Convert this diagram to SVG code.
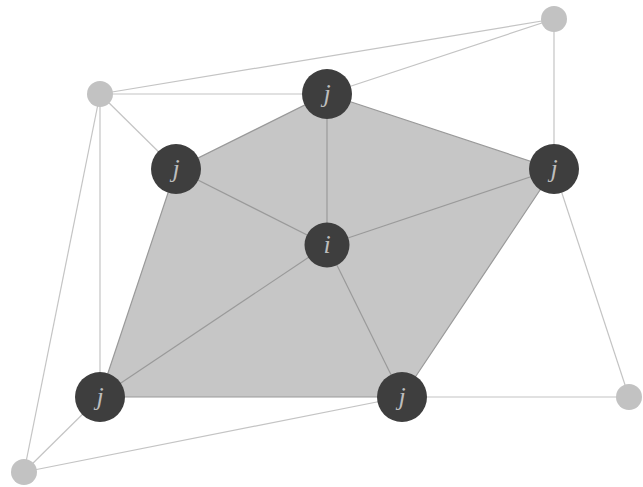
<svg xmlns="http://www.w3.org/2000/svg" width="643" height="487" viewBox="0 0 643 487">
<style>
.outer{stroke:#c4c4c4;stroke-width:1.2;fill:none}
.inner{stroke:#9a9a9a;stroke-width:1.2;fill:none}
.poly{fill:#c6c6c6;stroke:#999999;stroke-width:1.2}
.dark{fill:#3e3e3e}
.light{fill:#c2c2c2}
.lbl{font-family:"Liberation Serif",serif;font-style:italic;font-size:26px;fill:#bdbdbd;text-anchor:middle}
</style>
<rect width="643" height="487" fill="#ffffff"/>
<polygon id="region" class="poly" points="327,94 554,169 402,397 100,397 176,169"/>
<g id="connectors">
<line class="outer" x1="100" y1="94" x2="327" y2="94"/>
<line class="outer" x1="100" y1="94" x2="554" y2="19"/>
<line class="outer" x1="327" y1="94" x2="554" y2="19"/>
<line class="outer" x1="554" y1="19" x2="554" y2="169"/>
<line class="outer" x1="100" y1="94" x2="176" y2="169"/>
<line class="outer" x1="100" y1="94" x2="100" y2="397"/>
<line class="outer" x1="100" y1="94" x2="24" y2="472"/>
<line class="outer" x1="24" y1="472" x2="100" y2="397"/>
<line class="outer" x1="24" y1="472" x2="402" y2="397"/>
<line class="outer" x1="402" y1="397" x2="629" y2="397"/>
<line class="outer" x1="554" y1="169" x2="629" y2="397"/>
<line class="inner" x1="327" y1="245" x2="327" y2="94"/>
<line class="inner" x1="327" y1="245" x2="176" y2="169"/>
<line class="inner" x1="327" y1="245" x2="554" y2="169"/>
<line class="inner" x1="327" y1="245" x2="100" y2="397"/>
<line class="inner" x1="327" y1="245" x2="402" y2="397"/>
</g>
<g id="g1"><circle class="light" cx="100" cy="94" r="13"/></g>
<g id="g2"><circle class="light" cx="554" cy="19" r="13"/></g>
<g id="g3"><circle class="light" cx="629" cy="397" r="13"/></g>
<g id="g4"><circle class="light" cx="24" cy="472" r="13"/></g>
<g id="i"><circle class="dark" cx="327" cy="245" r="22.5"/><text class="lbl" x="327" y="253">i</text></g>
<g id="j1"><circle class="dark" cx="327" cy="94" r="25"/><text class="lbl" x="327" y="102">j</text></g>
<g id="j2"><circle class="dark" cx="176" cy="169" r="25"/><text class="lbl" x="176" y="177">j</text></g>
<g id="j3"><circle class="dark" cx="554" cy="169" r="25"/><text class="lbl" x="554" y="177">j</text></g>
<g id="j4"><circle class="dark" cx="100" cy="397" r="25"/><text class="lbl" x="100" y="405">j</text></g>
<g id="j5"><circle class="dark" cx="402" cy="397" r="25"/><text class="lbl" x="402" y="405">j</text></g>
</svg>
